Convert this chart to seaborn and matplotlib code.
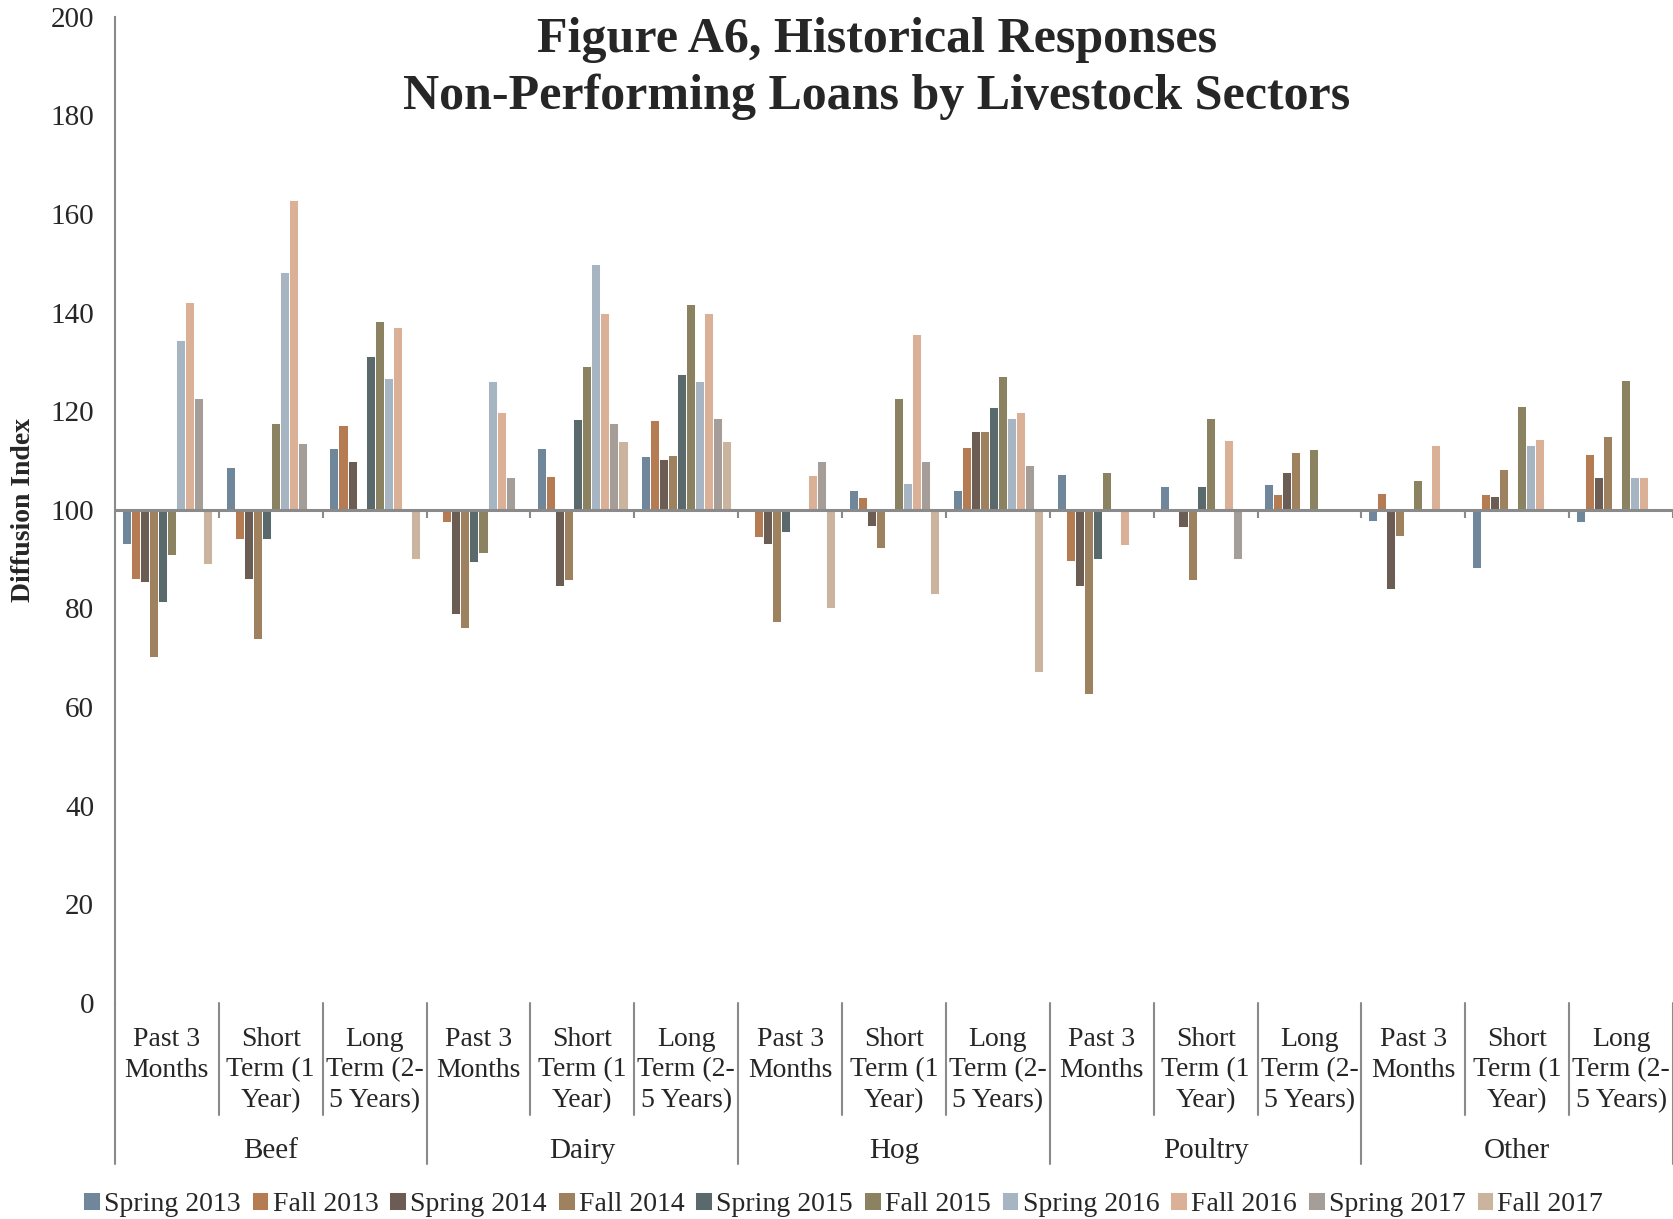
import numpy as np
import pandas as pd
import matplotlib
matplotlib.use("Agg")
import matplotlib.pyplot as plt
from matplotlib.patches import Patch
from matplotlib.transforms import blended_transform_factory
import seaborn as sns

nan = np.nan

sectors = ["Beef", "Dairy", "Hog", "Poultry", "Other"]
horizons = ["Past 3\nMonths", "Short\nTerm (1\nYear)", "Long\nTerm (2-\n5 Years)"]
seasons = ["Spring 2013", "Fall 2013", "Spring 2014", "Fall 2014", "Spring 2015",
           "Fall 2015", "Spring 2016", "Fall 2016", "Spring 2017", "Fall 2017"]

# values per season, in order Beef(P3,ST,LT), Dairy, Hog, Poultry, Other
spring_2013 = [93.0, 108.6, 112.5, nan, 112.5, 110.8, nan, 104.1, 104.1, 107.2, 104.8, 105.2, 97.7, 88.1, 97.6]
fall_2013 = [86.0, 94.1, 117.2, 97.5, 106.9, 118.1, 94.4, 102.5, 112.8, 89.6, nan, 103.1, 103.4, 103.1, 111.4]
spring_2014 = [85.3, 86.0, 109.9, 78.9, 84.6, 110.2, 93.0, 96.6, 116.0, 84.6, 96.4, 107.6, 83.9, 102.8, 106.6]
fall_2014 = [70.2, 73.7, nan, 76.0, 85.7, 111.0, 77.2, 92.3, 115.9, 62.6, 85.7, 111.7, 94.7, 108.2, 114.9]
spring_2015 = [81.2, 94.1, 131.2, 89.3, 118.5, 127.5, 95.4, nan, 120.8, 90.0, 104.9, nan, nan, nan, nan]
fall_2015 = [90.9, 117.6, 138.2, 91.3, 129.1, 141.7, nan, 122.7, 127.2, 107.6, 118.7, 112.4, 106.1, 121.0, 126.3]
spring_2016 = [134.4, 148.2, 126.7, 126.2, 149.9, 126.2, nan, 105.4, 118.7, nan, nan, nan, nan, 113.2, 106.6]
fall_2016 = [142.2, 162.9, 137.0, 119.9, 139.9, 139.9, 107.1, 135.7, 119.9, 92.8, 114.2, nan, 113.2, 114.3, 106.6]
spring_2017 = [122.7, 113.6, nan, 106.6, 117.6, 118.7, 109.9, 109.9, 109.0, nan, 90.0, nan, nan, nan, nan]
fall_2017 = [89.0, nan, 90.0, nan, 113.9, 113.9, 80.0, 83.0, 67.0, nan, nan, nan, nan, nan, nan]

colors = ["#6F869B", "#B57B52", "#6B5D54", "#9E815F", "#5A6A6C",
          "#8A8260", "#A7B5C2", "#DAB096", "#A59E98", "#CAB49E"]

series = [spring_2013, fall_2013, spring_2014, fall_2014, spring_2015,
          fall_2015, spring_2016, fall_2016, spring_2017, fall_2017]

groups = [f"{s}|{h}" for s in sectors for h in horizons]
rows = []
for season, vals in zip(seasons, series):
    for g, v in zip(groups, vals):
        rows.append({"group": g, "season": season, "value": v})
table = pd.DataFrame(rows).dropna()
table["height"] = table["value"] - 100

sns.set_style("white")
plt.rcParams["font.family"] = ["Liberation Serif", "DejaVu Serif"]

grey = "#8A8A8A"
fig = plt.figure(figsize=(16.73, 12.19), dpi=100)
ax = fig.add_axes([0.0687, 0.1774, 0.9313, 0.8089])

# bars hang from the 100 line
sns.barplot(data=table, x="group", y="height", hue="season", order=groups,
            hue_order=seasons, palette=colors, saturation=1, width=10 / 11.5,
            gap=0, bottom=100, errorbar=None, edgecolor="white", linewidth=0.7,
            legend=False, ax=ax)

ax.set_xlim(-0.5, 14.5)
ax.set_ylim(0, 200)
ax.set_yticks(range(0, 201, 20))
ax.tick_params(axis="y", length=5, width=1.5, color=grey, labelsize=21, pad=10)
ax.tick_params(axis="x", bottom=False, labelbottom=False)
ax.set_xlabel("")
ax.set_ylabel("Diffusion Index", fontsize=20, fontweight="bold")
ax.yaxis.set_label_coords(-0.0506, 0.5)
for side in ["top", "right", "bottom"]:
    ax.spines[side].set_visible(False)
ax.spines["left"].set_color(grey)
ax.spines["left"].set_linewidth(1.5)

# category axis crossing at 100
ax.axhline(100, color=grey, lw=2.2, zorder=3)
ax.vlines(np.arange(0.5, 15, 1), 98.3, 100, color=grey, lw=1.5, zorder=3)

trans = blended_transform_factory(ax.transData, ax.transAxes)
for i, g in enumerate(groups):
    ax.text(i, -0.025, g.split("|")[1], transform=trans, ha="center", va="top",
            fontsize=20, linespacing=1.27)
for k, s in enumerate(sectors):
    ax.text(3 * k + 1, -0.150, s, transform=trans, ha="center", va="center", fontsize=21)
for i in range(16):
    bottom = -0.164 if i % 3 == 0 else -0.114
    ax.plot([i - 0.5, i - 0.5], [0, bottom], transform=trans, color=grey,
            lw=1.5, clip_on=False)

handles = [Patch(facecolor=c, edgecolor="white", lw=0.7) for c in colors]
fig.legend(handles, seasons, loc="center", bbox_to_anchor=(0.504, 0.012), ncol=10,
           frameon=False, fontsize=20, handlelength=0.6, handleheight=0.6,
           handletextpad=0.15, columnspacing=0.4)

fig.text(0.524, 0.967, "Figure A6, Historical Responses", ha="center", va="center",
         fontsize=36, fontweight="bold")
fig.text(0.524, 0.921, "Non-Performing Loans by Livestock Sectors", ha="center",
         va="center", fontsize=36, fontweight="bold")

fig.savefig("out.png", dpi=100)
